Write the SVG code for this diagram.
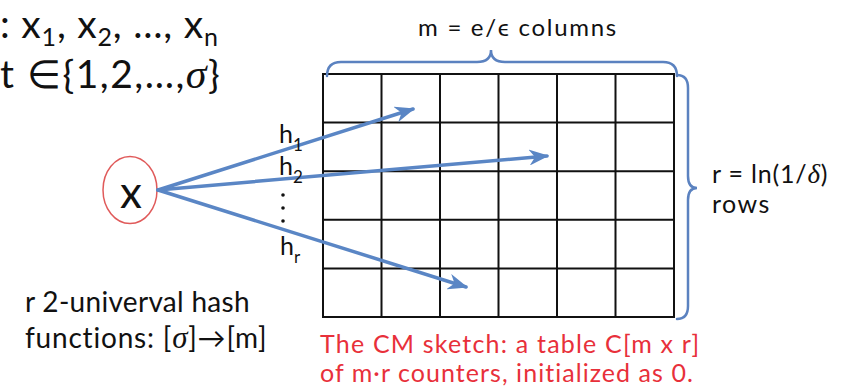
<svg xmlns="http://www.w3.org/2000/svg" width="849" height="388" viewBox="0 0 849 388">
<defs>
<style>
.t{font-family:Lato,"Open Sans","Liberation Sans",sans-serif;fill:#111}
.red{fill:#e8303a}
.grid{stroke:#111;stroke-width:2;fill:none}
.brace{stroke:#5b82c0;stroke-width:2.5;fill:none;stroke-linecap:round}
.arr{stroke:#5a86c5;stroke-width:3.5;fill:none;stroke-linecap:round}
</style>
<marker id="ah" viewBox="0 0 20 16" refX="18" refY="8" markerWidth="20" markerHeight="16" markerUnits="userSpaceOnUse" orient="auto">
<path d="M0,0 L20,8 L0,16 L6,8 z" fill="#5a86c5"/>
</marker>
</defs>
<rect width="849" height="388" fill="#fff"/>
<g id="stream-text">
<text class="t" x="0" y="38" font-size="39" letter-spacing="0.8">: x<tspan font-size="25" dy="8">1</tspan><tspan dy="-8">, x</tspan><tspan font-size="25" dy="8">2</tspan><tspan dy="-8">, …, x</tspan><tspan font-size="25" dy="8">n</tspan></text>
<text class="t" x="0" y="88" font-size="39" letter-spacing="1.5">t ∈{1,2,…,<tspan font-family="Liberation Serif,serif" font-style="italic" font-size="42">σ</tspan>}</text>
</g>
<g id="columns-label">
<text class="t" x="518" y="36" font-size="24" letter-spacing="1.7" text-anchor="middle">m = e/ϵ columns</text>
</g>
<g id="rows-label">
<text class="t" x="712" y="183" font-size="25" letter-spacing="0.8">r = ln(1/<tspan font-family="Liberation Serif,serif" font-style="italic" font-size="27">δ</tspan>)</text>
<text class="t" x="712" y="213" font-size="25" letter-spacing="1.5">rows</text>
</g>
<g id="table">
<rect class="grid" x="323" y="74" width="351" height="243"/>
<path class="grid" d="M381.5,74V317M440,74V317M498.5,74V317M557,74V317M615.5,74V317M323,122.6H674M323,171.2H674M323,219.8H674M323,268.4H674"/>
</g>
<g id="braces">
<path class="brace" d="M327,76 Q327,62 341,62 H477 Q491,62 491,50 Q491,62 505,62 H663 Q677,62 677,76"/>
<path class="brace" d="M677,75 Q688,75 688,88 V176 Q688,188 697,188 Q688,188 688,200 V306 Q688,319 677,319"/>
</g>
<g id="node-x">
<ellipse cx="130" cy="190" rx="27" ry="33.5" fill="#fff" stroke="#e05a5a" stroke-width="1.5"/>
<text class="t" x="131" y="208" font-size="44" text-anchor="middle">x</text>
</g>
<g id="connectors">
<line class="arr" x1="158" y1="190" x2="413" y2="109" marker-end="url(#ah)"/>
<line class="arr" x1="158" y1="190" x2="547" y2="156" marker-end="url(#ah)"/>
<line class="arr" x1="158" y1="190" x2="466" y2="287" marker-end="url(#ah)"/>
</g>
<g id="hash-labels">
<text class="t" x="279" y="143" font-size="25">h<tspan font-size="17" dy="8">1</tspan></text>
<text class="t" x="279" y="175" font-size="25">h<tspan font-size="17" dy="8">2</tspan></text>
<circle cx="283" cy="195" r="1.8" fill="#111"/>
<circle cx="283" cy="208" r="1.8" fill="#111"/>
<circle cx="283" cy="221" r="1.8" fill="#111"/>
<text class="t" x="280" y="255" font-size="25">h<tspan font-size="17" dy="8">r</tspan></text>
</g>
<g id="hash-desc">
<text class="t" x="25" y="312" font-size="28" letter-spacing="0.3">r 2-univerval hash</text>
<text class="t" x="25" y="348" font-size="28" letter-spacing="0.8">functions: [<tspan font-family="Liberation Serif,serif" font-style="italic" font-size="31">σ</tspan>]→[m]</text>
</g>
<g id="caption">
<text class="t red" x="320" y="353" font-size="25" letter-spacing="1.2">The CM sketch: a table C[m x r]</text>
<text class="t red" x="320" y="382" font-size="25" letter-spacing="1.05">of m·r counters, initialized as 0.</text>
</g>
</svg>
